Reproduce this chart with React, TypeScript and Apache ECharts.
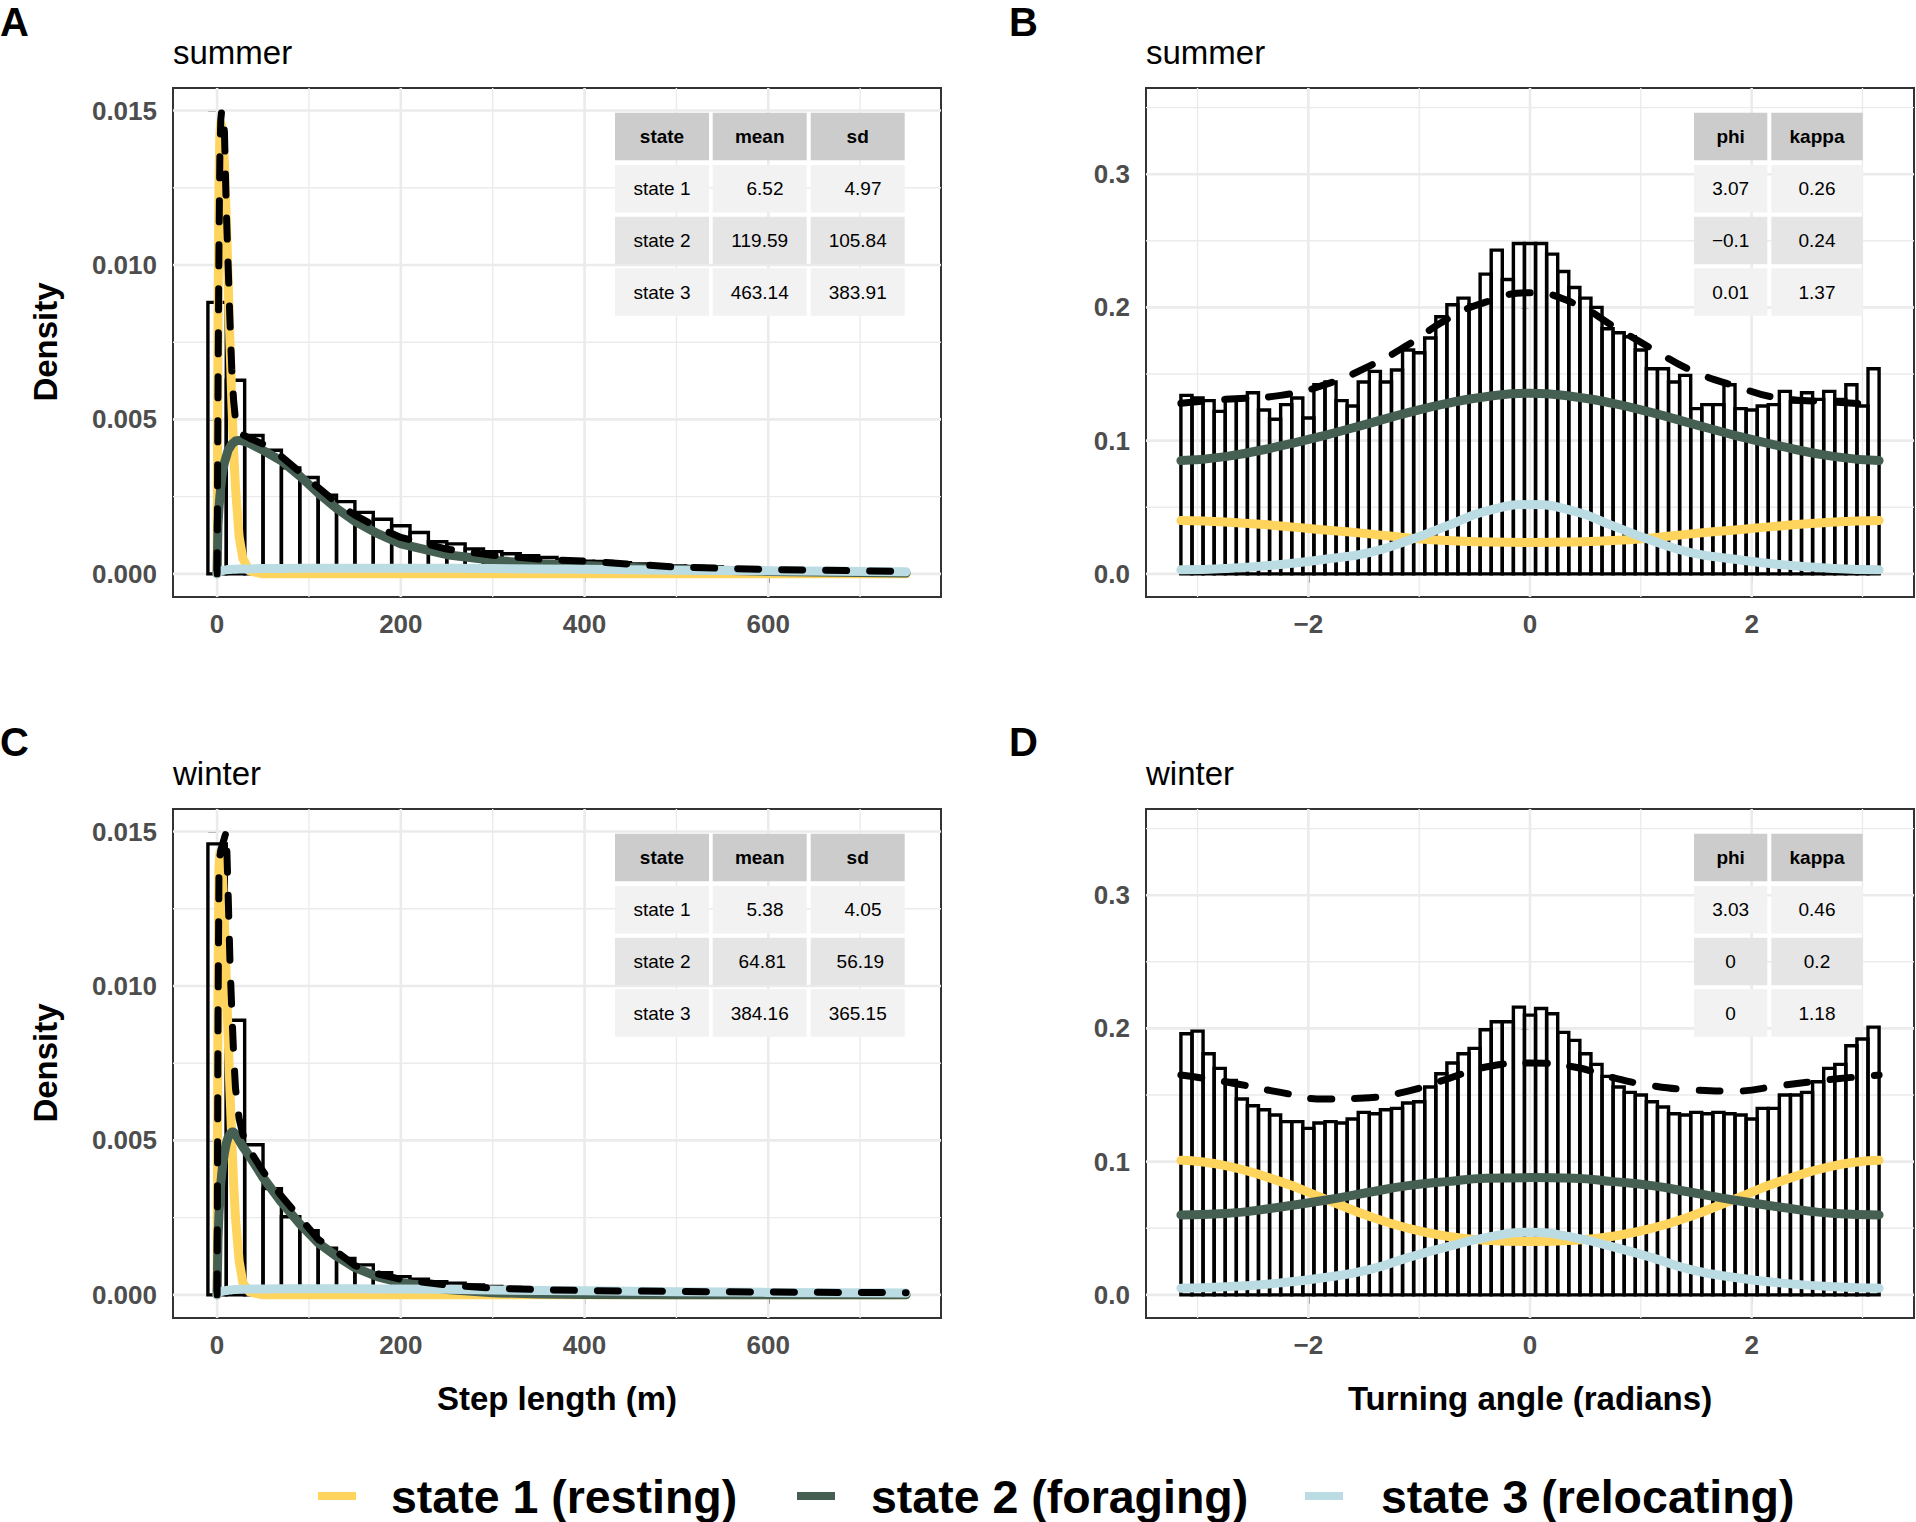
import React, { useEffect, useRef } from "react";
import * as echarts from "echarts";

const FONT = '"Liberation Sans", Arial, Helvetica, sans-serif';

// ---------------- Step length (panels A, C) ----------------
const stepBinStart = -10;
const stepBinWidth = 20;
const stepCurveX = [0, 1, 2, 3, 4, 5, 6, 8, 10, 12, 14, 16, 18, 20, 24, 28, 35, 50, 70, 90, 110, 130, 150, 175, 200, 250, 300, 350, 400, 500, 600, 750];

const summerStepHist = [0.00879, 0.00627, 0.00448, 0.004, 0.00343, 0.00312, 0.00255, 0.00234, 0.00199, 0.00177, 0.00156, 0.00134, 0.00104, 0.00097, 0.00081, 0.00072, 0.00065, 0.00059, 0.00053, 0.00046, 0.00041, 0.0004, 0.00036, 0.00032, 0.00029, 0.00026, 0.00024, 0.00022, 0.0002, 0.00018, 0.00016, 0.00015, 0.00013, 0.00012, 0.00011, 0.0001, 0.00009, 0.00008];
const summerStepState1 = [0, 0.008, 0.0125, 0.0142, 0.0146, 0.0145, 0.0143, 0.0133, 0.0115, 0.0095, 0.0075, 0.0056, 0.004, 0.0028, 0.0012, 0.0005, 0.0001, 0, 0, 0, 0, 0, 0, 0, 0, 0, 0, 0, 0, 0, 0, 0];
const summerStepState2 = [0, 0.0016, 0.0021, 0.0025, 0.0028, 0.0031, 0.0033, 0.0036, 0.0038, 0.004, 0.0041, 0.0042, 0.00425, 0.0043, 0.00432, 0.0043, 0.00423, 0.004, 0.00366, 0.00317, 0.00262, 0.00212, 0.0017, 0.0013, 0.00097, 0.00062, 0.00044, 0.00033, 0.00027, 0.00015, 0.00008, 0.00003];
const summerStepState3 = [0, 0.00004, 0.00006, 0.00008, 0.00009, 0.0001, 0.00011, 0.00012, 0.00013, 0.00014, 0.00014, 0.00015, 0.00015, 0.00015, 0.00016, 0.00016, 0.00016, 0.00017, 0.00017, 0.00018, 0.00018, 0.00018, 0.00018, 0.00018, 0.00018, 0.00018, 0.00017, 0.00016, 0.00015, 0.00012, 0.0001, 0.00007];
const summerStepTotal = [0, 0.006, 0.0105, 0.0135, 0.0147, 0.015, 0.015, 0.0143, 0.0118, 0.01, 0.0082, 0.0066, 0.0056, 0.005, 0.0046, 0.0045, 0.0044, 0.0042, 0.0038, 0.0033, 0.0028, 0.0023, 0.0019, 0.0015, 0.00118, 0.0008, 0.0006, 0.00048, 0.00041, 0.00022, 0.00014, 0.00008];

const winterStepHist = [0.0146, 0.00889, 0.00486, 0.00344, 0.00253, 0.00208, 0.00151, 0.00118, 0.00097, 0.00072, 0.00059, 0.00051, 0.00043, 0.00038, 0.00032, 0.00027, 0.00024, 0.00021, 0.00019, 0.00017, 0.00015, 0.00014, 0.00013, 0.00012, 0.00011, 0.0001, 0.0001, 0.00009, 0.00009, 0.00008, 0.00008, 0.00007, 0.00007, 0.00006, 0.00006, 0.00005, 0.00005, 0.00005];
const winterStepState1 = [0, 0.01, 0.0138, 0.0143, 0.0143, 0.014, 0.0134, 0.012, 0.0102, 0.0084, 0.0066, 0.005, 0.0036, 0.0025, 0.0011, 0.0004, 0.0001, 0, 0, 0, 0, 0, 0, 0, 0, 0, 0, 0, 0, 0, 0, 0];
const winterStepState2 = [0, 0.0018, 0.0026, 0.0031, 0.0036, 0.0039, 0.0042, 0.0046, 0.0049, 0.0051, 0.0052, 0.00527, 0.00527, 0.0052, 0.005, 0.0048, 0.0045, 0.0038, 0.003, 0.0023, 0.00168, 0.00125, 0.00088, 0.00058, 0.0004, 0.00017, 0.00007, 0.00003, 0.00001, 0, 0, 0];
const winterStepState3 = [0, 0.00004, 0.00007, 0.00009, 0.0001, 0.00011, 0.00012, 0.00013, 0.00014, 0.00015, 0.00016, 0.00016, 0.00017, 0.00017, 0.00018, 0.00018, 0.00019, 0.00019, 0.0002, 0.0002, 0.0002, 0.0002, 0.0002, 0.00019, 0.00019, 0.00018, 0.00016, 0.00014, 0.00013, 0.0001, 0.00008, 0.00006];
const winterStepTotal = [0, 0.009, 0.0135, 0.0142, 0.0144, 0.0145, 0.0146, 0.0148, 0.015, 0.013, 0.0108, 0.0092, 0.0078, 0.0067, 0.0057, 0.0052, 0.0047, 0.004, 0.0032, 0.0025, 0.0018, 0.0014, 0.00095, 0.00068, 0.0005, 0.00032, 0.00022, 0.00017, 0.00014, 0.00011, 0.00009, 0.00007];

// ---------------- Turning angle (panels B, D) ----------------
const angleBinStart = -3.15;
const angleBinWidth = 0.1;
const angleCurveX = [-3.15, -2.75, -2.25, -1.85, -1.45, -1.1, -0.75, -0.4, 0, 0.4, 0.75, 1.1, 1.45, 1.85, 2.25, 2.75, 3.15];

const summerAngleHist = [0.134, 0.132, 0.13, 0.122, 0.131, 0.132, 0.136, 0.123, 0.116, 0.127, 0.132, 0.117, 0.142, 0.144, 0.13, 0.126, 0.144, 0.152, 0.144, 0.153, 0.168, 0.166, 0.177, 0.193, 0.202, 0.207, 0.202, 0.225, 0.243, 0.221, 0.248, 0.248, 0.248, 0.24, 0.227, 0.215, 0.207, 0.2, 0.184, 0.181, 0.178, 0.168, 0.154, 0.154, 0.144, 0.149, 0.124, 0.127, 0.127, 0.142, 0.124, 0.123, 0.126, 0.127, 0.137, 0.129, 0.136, 0.131, 0.137, 0.131, 0.142, 0.126, 0.154];
const summerAngleState1 = [0.04, 0.039, 0.036, 0.033, 0.03, 0.027, 0.025, 0.024, 0.0236, 0.024, 0.025, 0.027, 0.03, 0.033, 0.036, 0.039, 0.04];
const summerAngleState2 = [0.085, 0.088, 0.096, 0.104, 0.113, 0.121, 0.128, 0.133, 0.1356, 0.133, 0.128, 0.121, 0.113, 0.104, 0.096, 0.088, 0.085];
const summerAngleState3 = [0.003, 0.004, 0.007, 0.011, 0.016, 0.025, 0.036, 0.047, 0.052, 0.047, 0.036, 0.025, 0.016, 0.011, 0.007, 0.004, 0.003];
const summerAngleTotal = [0.128, 0.131, 0.134, 0.142, 0.156, 0.172, 0.191, 0.204, 0.211, 0.203, 0.186, 0.169, 0.153, 0.141, 0.132, 0.129, 0.127];

const winterAngleHist = [0.196, 0.198, 0.181, 0.17, 0.161, 0.147, 0.142, 0.139, 0.135, 0.13, 0.13, 0.125, 0.129, 0.13, 0.129, 0.132, 0.137, 0.136, 0.139, 0.14, 0.144, 0.145, 0.156, 0.166, 0.174, 0.181, 0.185, 0.199, 0.205, 0.205, 0.216, 0.21, 0.215, 0.211, 0.197, 0.191, 0.181, 0.173, 0.164, 0.156, 0.152, 0.15, 0.145, 0.141, 0.136, 0.135, 0.137, 0.136, 0.137, 0.136, 0.135, 0.132, 0.14, 0.14, 0.15, 0.15, 0.152, 0.16, 0.17, 0.173, 0.187, 0.192, 0.201];
const winterAngleState1 = [0.101, 0.097, 0.085, 0.072, 0.059, 0.05, 0.044, 0.041, 0.04, 0.041, 0.044, 0.05, 0.059, 0.072, 0.085, 0.097, 0.101];
const winterAngleState2 = [0.06, 0.061, 0.066, 0.071, 0.077, 0.082, 0.085, 0.0875, 0.088, 0.0875, 0.085, 0.082, 0.077, 0.071, 0.066, 0.061, 0.06];
const winterAngleState3 = [0.005, 0.006, 0.009, 0.013, 0.019, 0.028, 0.036, 0.043, 0.047, 0.043, 0.036, 0.028, 0.019, 0.013, 0.009, 0.006, 0.005];
const winterAngleTotal = [0.165, 0.16, 0.152, 0.147, 0.148, 0.153, 0.162, 0.171, 0.174, 0.171, 0.163, 0.157, 0.154, 0.153, 0.157, 0.162, 0.165];

// ---------------- Axes ----------------
const stepXRange = [-48, 788];
const stepYRange = [-0.000749, 0.015729];
const angleXRange = [-3.465, 3.465];
const angleYRange = [-0.01737, 0.3647];
const stepXTicks = [0, 200, 400, 600];
const stepXMinor = [100, 300, 500, 700];
const stepYTicks = [0, 0.005, 0.01, 0.015];
const stepYMinor = [0.0025, 0.0075, 0.0125];
const angleXTicks = [-2, 0, 2];
const angleXMinor = [-3, -1, 1, 3];
const angleYTicks = [0, 0.1, 0.2, 0.3];
const angleYMinor = [0.05, 0.15, 0.25, 0.35];

// ---------------- Tables ----------------
const stepTableHeader = ["state", "mean", "sd"];
const stateRowLabels = ["state 1", "state 2", "state 3"];
const summerStepMean = [6.52, 119.59, 463.14];
const summerStepSd = [4.97, 105.84, 383.91];
const winterStepMean = [5.38, 64.81, 384.16];
const winterStepSd = [4.05, 56.19, 365.15];
const angleTableHeader = ["phi", "kappa"];
const summerAnglePhi = ["3.07", "\u22120.1", "0.01"];
const summerAngleKappa = ["0.26", "0.24", "1.37"];
const winterAnglePhi = ["3.03", "0", "0"];
const winterAngleKappa = ["0.46", "0.2", "1.18"];

// ---------------- Legend ----------------
const stateNames = ["state 1 (resting)", "state 2 (foraging)", "state 3 (relocating)"];
const stateColors = ["#FFD45C", "#455F52", "#BBDCE3"];

function formatCol(vals: number[]): string[] {
  const s = vals.map((v) => v.toFixed(2));
  const w = Math.max(...s.map((t) => t.length));
  return s.map((t) => "\u00a0".repeat(w - t.length) + t);
}

const PW = 768;
const PH = 509;

export default function App() {
  const ref = useRef<HTMLDivElement>(null);
  useEffect(() => {
    document.body.style.margin = "0";
    document.body.style.overflow = "hidden";
    if (!ref.current) return;
    const chart = echarts.init(ref.current, null, { renderer: "svg" });

    const panels = [
      { kind: "step", left: 173, top: 88, hist: summerStepHist, s: [summerStepState1, summerStepState2, summerStepState3], total: summerStepTotal },
      { kind: "angle", left: 1146, top: 88, hist: summerAngleHist, s: [summerAngleState1, summerAngleState2, summerAngleState3], total: summerAngleTotal },
      { kind: "step", left: 173, top: 809, hist: winterStepHist, s: [winterStepState1, winterStepState2, winterStepState3], total: winterStepTotal },
      { kind: "angle", left: 1146, top: 809, hist: winterAngleHist, s: [winterAngleState1, winterAngleState2, winterAngleState3], total: winterAngleTotal },
    ];

    const grids: any[] = [];
    const xAxes: any[] = [];
    const yAxes: any[] = [];
    const series: any[] = [];

    const labelStyle = { fontSize: 26, fontWeight: "bold", color: "#4D4D4D", fontFamily: FONT };
    const tickStyle = { color: "#333333", width: 2 };

    panels.forEach((p, i) => {
      const isStep = p.kind === "step";
      grids.push({ left: p.left, top: p.top, width: PW, height: PH, show: true, borderColor: "#333333", borderWidth: 2, backgroundColor: "rgba(0,0,0,0)" });
      const xR = isStep ? stepXRange : angleXRange;
      const yR = isStep ? stepYRange : angleYRange;
      const xT = isStep ? stepXTicks : angleXTicks;
      const yT = isStep ? stepYTicks : angleYTicks;
      const xM = isStep ? stepXMinor : angleXMinor;
      const yM = isStep ? stepYMinor : angleYMinor;
      xAxes.push({
        gridIndex: i,
        type: "value",
        min: xR[0],
        max: xR[1],
        axisLine: { show: false },
        splitLine: { show: false },
        axisTick: { show: true, customValues: xT, length: 9, lineStyle: tickStyle },
        axisLabel: {
          ...labelStyle,
          customValues: xT,
          margin: 14,
          formatter: (v: number) => (v < 0 ? "\u2212" + Math.abs(v) : String(v)),
        },
      });
      yAxes.push({
        gridIndex: i,
        type: "value",
        min: yR[0],
        max: yR[1],
        axisLine: { show: false },
        splitLine: { show: false },
        axisTick: { show: true, customValues: yT, length: 9, lineStyle: tickStyle },
        axisLabel: {
          ...labelStyle,
          customValues: yT,
          margin: 16,
          formatter: (v: number) => v.toFixed(isStep ? 3 : 1),
        },
      });

      // gridlines: [orientation (0 = vertical, 1 = horizontal), value, width]
      const gl: number[][] = [];
      xT.forEach((v) => gl.push([0, v, 2.6]));
      xM.forEach((v) => gl.push([0, v, 1.4]));
      yT.forEach((v) => gl.push([1, v, 2.6]));
      yM.forEach((v) => gl.push([1, v, 1.4]));
      series.push({
        type: "custom",
        xAxisIndex: i,
        yAxisIndex: i,
        silent: true,
        z: 1,
        encode: { x: 1, y: 1 },
        data: gl,
        renderItem: (params: any, api: any) => {
          const o = api.value(0);
          const v = api.value(1);
          const a = o === 0 ? api.coord([v, yR[0]]) : api.coord([xR[0], v]);
          const b = o === 0 ? api.coord([v, yR[1]]) : api.coord([xR[1], v]);
          return {
            type: "line",
            shape: { x1: a[0], y1: a[1], x2: b[0], y2: b[1] },
            style: { stroke: "#EBEBEB", lineWidth: api.value(2) },
          };
        },
      });

      // histogram
      const bs = isStep ? stepBinStart : angleBinStart;
      const bw = isStep ? stepBinWidth : angleBinWidth;
      series.push({
        type: "custom",
        xAxisIndex: i,
        yAxisIndex: i,
        silent: true,
        z: 2,
        encode: { x: [0, 1], y: 2 },
        data: p.hist.map((v, k) => [bs + k * bw, bs + (k + 1) * bw, v]),
        renderItem: (params: any, api: any) => {
          const p0 = api.coord([api.value(0), 0]);
          const p1 = api.coord([api.value(1), api.value(2)]);
          return {
            type: "rect",
            shape: { x: p0[0], y: p1[1], width: p1[0] - p0[0], height: p0[1] - p1[1] },
            style: { fill: "none", stroke: "#000000", lineWidth: 3.4 },
          };
        },
      });

      const cx = isStep ? stepCurveX : angleCurveX;
      const smooth = isStep ? false : 0.5;
      p.s.forEach((arr, si) => {
        series.push({
          type: "line",
          xAxisIndex: i,
          yAxisIndex: i,
          silent: true,
          z: 3 + si,
          showSymbol: false,
          symbol: "none",
          smooth,
          data: cx.map((x, k) => [x, arr[k]]),
          lineStyle: { color: stateColors[si], width: 9, cap: "round", join: "round" },
        });
      });
      series.push({
        type: "line",
        xAxisIndex: i,
        yAxisIndex: i,
        silent: true,
        z: 7,
        showSymbol: false,
        symbol: "none",
        smooth,
        data: cx.map((x, k) => [x, p.total[k]]),
        lineStyle: { color: "#000000", width: 7, type: [21, 23], cap: "round", join: "round" },
      });
    });

    // ---------- graphic: labels, tables, legend ----------
    const g: any[] = [];
    const txt = (x: number, y: number, text: string, size: number, weight: string, align = "left", rot = 0, color = "#000000") => ({
      type: "text",
      x,
      y,
      rotation: rot,
      z: 20,
      silent: true,
      style: {
        text,
        fill: color,
        fontSize: size,
        fontWeight: weight,
        fontFamily: FONT,
        align,
        textAlign: align,
        verticalAlign: "middle",
        textVerticalAlign: "middle",
      },
    });

    [["A", 0, 22], ["B", 1009, 22], ["C", 0, 742], ["D", 1009, 742]].forEach(([t, x, y]) =>
      g.push(txt(x as number, y as number, t as string, 40, "bold"))
    );
    g.push(txt(173, 52, "summer", 33, "normal"));
    g.push(txt(1146, 52, "summer", 33, "normal"));
    g.push(txt(173, 773, "winter", 33, "normal"));
    g.push(txt(1146, 773, "winter", 33, "normal"));
    g.push(txt(557, 1398, "Step length (m)", 33, "bold", "center"));
    g.push(txt(1530, 1398, "Turning angle (radians)", 33, "bold", "center"));
    g.push(txt(45, 342, "Density", 33, "bold", "center", Math.PI / 2));
    g.push(txt(45, 1063, "Density", 33, "bold", "center", Math.PI / 2));

    const rowFills = ["#CCCCCC", "#F2F2F2", "#E5E5E5", "#F2F2F2"];
    const rowTops = [112.7, 165, 216.7, 268.3];
    const rowH = 47.5;
    const drawTable = (colX: number[], colW: number[], dy: number, cols: string[][]) => {
      rowTops.forEach((ry, r) => {
        colX.forEach((cxp, c) => {
          g.push({ type: "rect", z: 15, silent: true, shape: { x: cxp, y: ry + dy, width: colW[c], height: rowH }, style: { fill: rowFills[r] } });
          g.push(txt(cxp + colW[c] / 2, ry + dy + rowH / 2, cols[c][r], 19, r === 0 ? "bold" : "normal", "center"));
        });
      });
    };
    const stepColX = [615, 712.7, 810.7];
    const stepColW = [94, 94, 94];
    const angleColX = [1694, 1771.3];
    const angleColW = [73.3, 91.4];
    drawTable(stepColX, stepColW, 0, [
      [stepTableHeader[0], ...stateRowLabels],
      [stepTableHeader[1], ...formatCol(summerStepMean)],
      [stepTableHeader[2], ...formatCol(summerStepSd)],
    ]);
    drawTable(stepColX, stepColW, 721, [
      [stepTableHeader[0], ...stateRowLabels],
      [stepTableHeader[1], ...formatCol(winterStepMean)],
      [stepTableHeader[2], ...formatCol(winterStepSd)],
    ]);
    drawTable(angleColX, angleColW, 0, [
      [angleTableHeader[0], ...summerAnglePhi],
      [angleTableHeader[1], ...summerAngleKappa],
    ]);
    drawTable(angleColX, angleColW, 721, [
      [angleTableHeader[0], ...winterAnglePhi],
      [angleTableHeader[1], ...winterAngleKappa],
    ]);

    // legend
    const keyX = [318, 797, 1305];
    const textX = [391, 871, 1381];
    stateNames.forEach((name, k) => {
      g.push({ type: "line", z: 20, silent: true, shape: { x1: keyX[k], y1: 1496, x2: keyX[k] + 38, y2: 1496 }, style: { stroke: stateColors[k], lineWidth: 8 } });
      g.push(txt(textX[k], 1497, name, 46.5, "bold"));
    });

    chart.setOption({
      animation: false,
      backgroundColor: "#FFFFFF",
      grid: grids,
      xAxis: xAxes,
      yAxis: yAxes,
      series,
      graphic: { elements: g },
    });
    return () => chart.dispose();
  }, []);
  return <div ref={ref} style={{ width: 1916, height: 1522 }} />;
}
